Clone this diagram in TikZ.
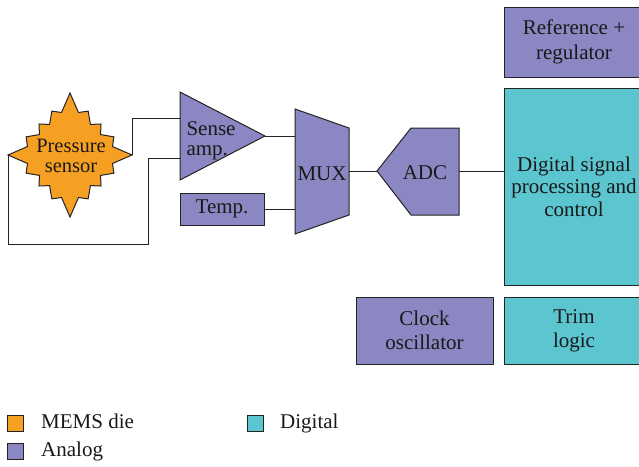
\documentclass[tikz,border=0pt]{standalone}
\usepackage{fontspec}
\setmainfont{Liberation Serif}
\usetikzlibrary{positioning}

\definecolor{memsorange}{RGB}{245,160,35}
\definecolor{analogpurple}{RGB}{139,135,194}
\definecolor{digitalcyan}{RGB}{91,197,208}
\definecolor{edge}{RGB}{35,35,35}

\tikzset{
  txt/.style={font=\fontsize{21}{24}\selectfont, text=black!90, inner sep=0pt, align=center},
  shapeline/.style={draw=edge, line width=1pt},
  block/.style={txt, shapeline},
  analog/.style={block, fill=analogpurple},
  digital/.style={block, fill=digitalcyan},
  wire/.style={draw=edge, line width=1pt},
  keybox/.style={shapeline, minimum size=16pt, inner sep=0pt},
}

\begin{document}
\begin{tikzpicture}[x=1pt, y=-1pt]
	\useasboundingbox (0,0) rectangle (639,466);
	%
	% MEMS die
	\coordinate (mems) at (70,155);
	\filldraw[shapeline, fill=memsorange, shift={(mems)}] (0:62)
		\foreach \i in {1,...,31}{ -- ({\i*11.25}:{(isodd(\i) ? 51 : 62)/(abs(cos(\i*11.25))+abs(sin(\i*11.25)))}) } -- cycle;
	\node[txt, font=\fontsize{20.5}{19.5}\selectfont] (sensor) at (71,156) {Pressure\\sensor};
	\coordinate (mems-e) at (132,155);
	\coordinate (mems-w) at (8,155);
	%
	% analog front end
	\coordinate (amp-in1) at (180,118);
	\coordinate (amp-in2) at (180,158);
	\coordinate (amp-out) at (265,136);
	\filldraw[shapeline, fill=analogpurple] (180,92) -- (amp-out) -- (180,180) -- cycle;
	\node[txt, align=left, font=\fontsize{21}{20}\selectfont] (amp) at (211,141) {Sense\\amp.};
	\node[analog, minimum width=84pt, minimum height=32pt] (temp) at (222,209) {Temp.};
	%
	\coordinate (mux-in1) at (295,136);
	\coordinate (mux-in2) at (295,209);
	\coordinate (mux-out) at (349,171);
	\filldraw[shapeline, fill=analogpurple] (295,109) -- (349,128) -- (349,215) -- (295,234) -- cycle;
	\node[txt] (mux) at (322,174) {MUX};
	%
	\coordinate (adc-in) at (377,171);
	\coordinate (adc-out) at (459,171);
	\filldraw[shapeline, fill=analogpurple] (adc-in) -- (411,128) -- (459,128) -- (459,215) -- (411,215) -- cycle;
	\node[txt] (adc) at (425,173) {ADC};
	%
	% right column
	\node[analog, minimum width=140pt, minimum height=70pt, font=\fontsize{21}{25}\selectfont] (ref) at (574,42) {Reference +\\regulator};
	\node[digital, minimum width=140pt, minimum height=197pt, font=\fontsize{21}{22.5}\selectfont] (dsp) at (574,186.5) {Digital signal\\processing and\\control};
	\node[digital, minimum width=140pt, minimum height=67pt] (trim) at (574,330.5) {Trim\\logic};
	\node[analog, minimum width=137pt, minimum height=67pt, left=10pt of trim] (clock) {Clock\\oscillator};
	%
	% connections
	\draw[wire] (mems-e) |- (amp-in1);
	\coordinate (loop) at (148,244);
	\draw[wire] (mems-w) |- (loop) |- (amp-in2);
	\draw[wire] (amp-out) -- (mux-in1);
	\draw[wire] (temp.east) -- (mux-in2);
	\draw[wire] (mux-out) -- (adc-in);
	\draw[wire] (adc-out) -- (adc-out -| dsp.west);
	%
	% key
	\node[keybox, fill=memsorange] (key-mems) at (15,423) {};
	\node[keybox, fill=analogpurple, below=11pt of key-mems] (key-analog) {};
	\node[keybox, fill=digitalcyan] (key-digital) at (255.5,423) {};
	\node[txt, anchor=base west] (lbl-mems) at (41,428) {MEMS die};
	\node[txt, anchor=base west] (lbl-analog) at (41,456) {Analog};
	\node[txt, anchor=base west] (lbl-digital) at (280,428) {Digital};
\end{tikzpicture}
\end{document}
